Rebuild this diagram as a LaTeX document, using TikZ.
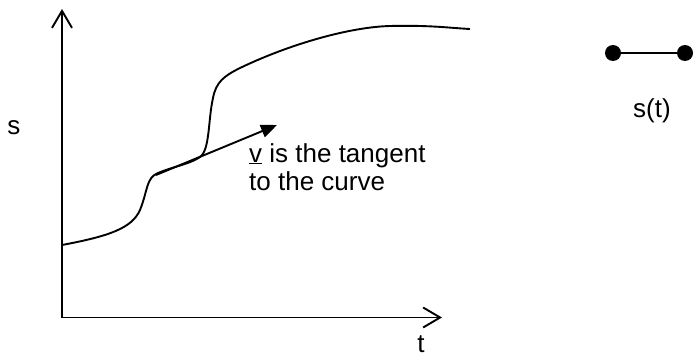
\documentclass[tikz,border=0pt]{standalone}
\usepackage{fontspec}
\setmainfont{Liberation Sans}
\usetikzlibrary{arrows.meta}
\begin{document}
\begin{tikzpicture}[x=1pt,y=-1pt,
  axis/.style={line width=1.9pt,-{Straight Barb[length=17pt,width=20pt,line width=1.9pt]}},
  lbl/.style={inner sep=0pt,anchor=base,font=\fontsize{26}{30}\selectfont},
  lbll/.style={lbl,anchor=base west},
  dot/.style={circle,fill=black,inner sep=0pt,minimum size=16pt}]
\useasboundingbox (0,0) rectangle (694,356);
\coordinate (O) at (62,317.5);
\coordinate (Ytop) at (62,9);
\coordinate (Xend) at (442,317.5);
\draw[axis] (O) -- (Ytop);
\draw[axis] (O) -- (Xend);
\node[lbl] (s) at (14,134) {s};
\node[lbl] (t) at (421,352) {t};
% curve
\coordinate (c0) at (62,245);
\coordinate (c1) at (140,210);
\coordinate (c2) at (158,173);
\coordinate (c3) at (200,157);
\coordinate (c4) at (213,98);
\coordinate (c5) at (240,68);
\coordinate (c6) at (390,26);
\coordinate (c7) at (470,29);
\draw[line width=1.9pt]
  (c0) .. controls (110,236) and (132,228) .. (c1)
       .. controls (148,190) and (146,178) .. (c2)
       .. controls (175,166) and (190,164) .. (c3)
       .. controls (210,150) and (208,120) .. (c4)
       .. controls (216,82) and (224,76) .. (c5)
       .. controls (290,44) and (350,27) .. (c6)
       .. controls (430,25) and (450,28) .. (c7);
% tangent
\coordinate (tA) at (156,175);
\coordinate (tB) at (277,125);
\draw[line width=1.9pt,-{Triangle[length=16pt,width=13pt]}] (tA) -- (tB);
\node[lbll] (l1) at (249,162) {\underline{v} is the tangent};
\node[lbll] (l2) at (249,190) {to the curve};
% s(t)
\node[dot] (d1) at (613,53) {};
\node[dot] (d2) at (685,53) {};
\draw[line width=1.5pt] (d1) -- (d2);
\node[lbl] (st) at (652,117) {s(t)};
\end{tikzpicture}
\end{document}
